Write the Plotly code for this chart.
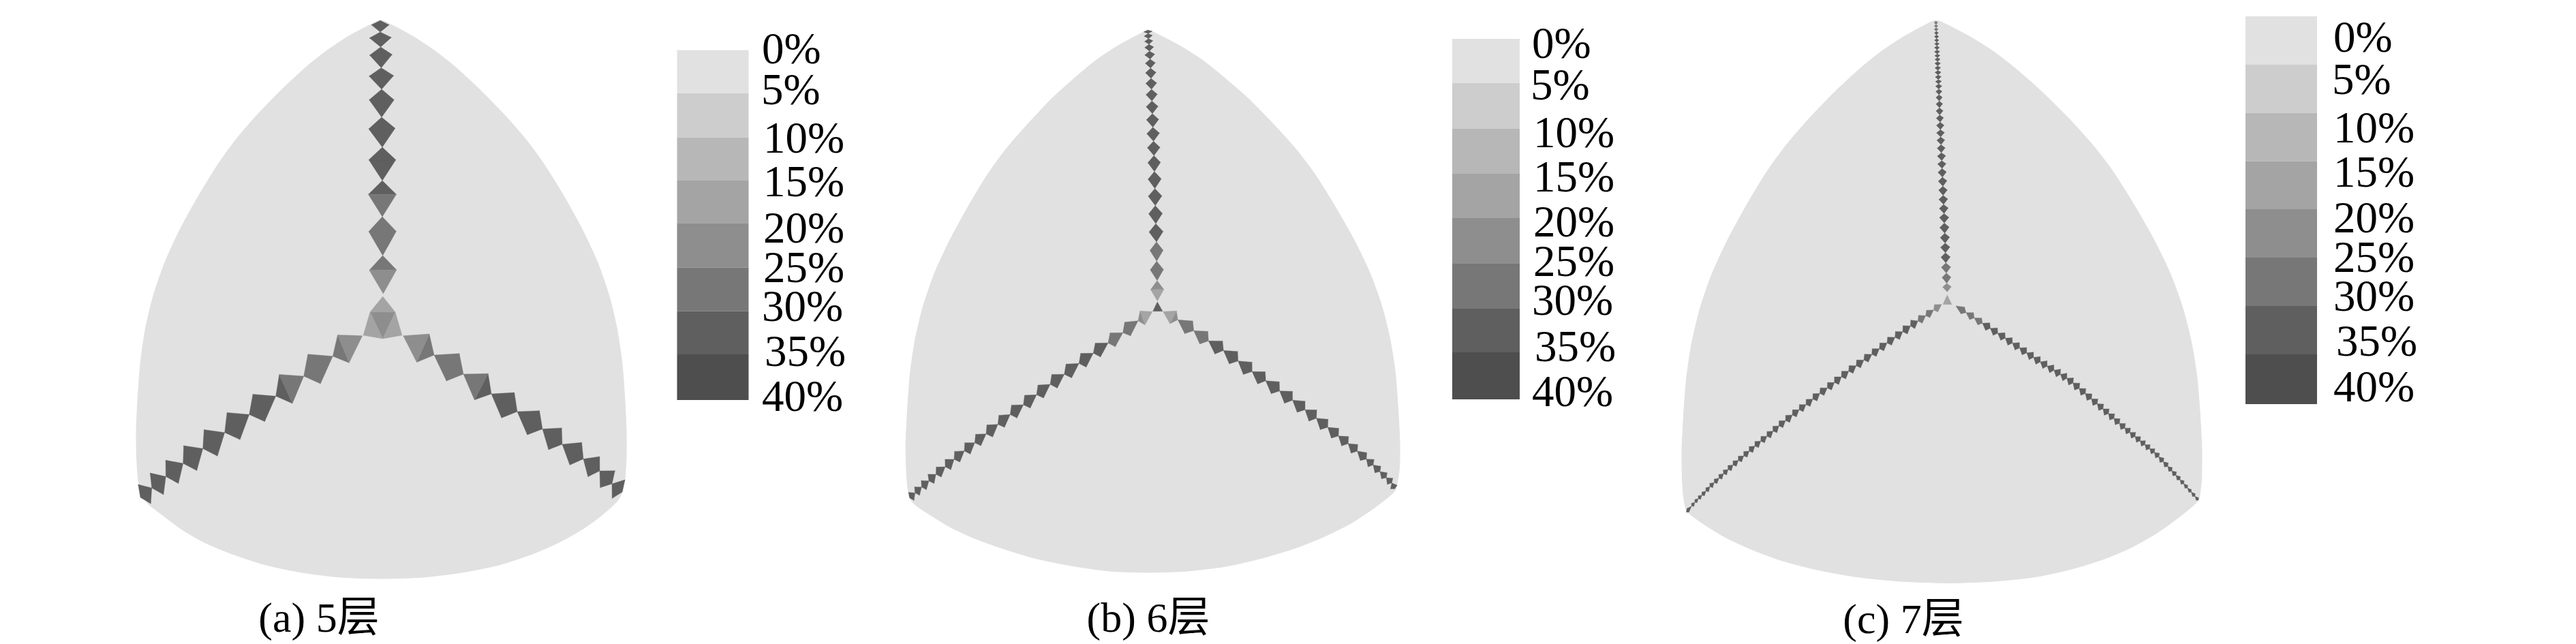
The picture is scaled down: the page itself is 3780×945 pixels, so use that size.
import plotly.graph_objects as go

legend_labels = ["0%", "5%", "10%", "15%", "20%", "25%", "30%", "35%", "40%"]
legend_greys = ["#e1e1e1", "#cdcdcd", "#b7b7b7", "#a4a4a4", "#8e8e8e", "#777777", "#5f5f5f", "#4e4e4e"]
shell_grey = "#e1e1e1"

captions = ["(a) 5层", "(b) 6层", "(c) 7层"]
caption_x = [468, 1685, 2793]
caption_y = [911, 911, 913]

# legend blocks
legend_a_edges = [73.5, 136.7, 201.8, 265, 328, 392.8, 456.6, 520, 587]
legend_a_label_y = [77, 137, 208, 272, 340, 398, 455, 521, 587]
legend_a_label_x = [1118, 1117, 1120, 1120, 1120, 1120, 1118, 1122, 1118]
legend_b_edges = [57, 122, 189, 255, 320, 387, 453, 517, 586]
legend_b_label_y = [69, 129.5, 200, 265, 331, 388.5, 446, 514, 579.5]
legend_b_label_x = [2248, 2246, 2250, 2250, 2250, 2250, 2248, 2252, 2248]
legend_c_edges = [24, 94.6, 165.7, 236.7, 307, 378, 449, 520, 593]
legend_c_label_y = [60, 122, 193, 258, 325, 382.5, 440, 506, 573]
legend_c_label_x = [3424, 3422, 3424, 3424, 3424, 3424, 3424, 3428, 3424]
legend_x = [1046, 2180.5, 3347.5]
legend_w = [105, 99, 105]

# shell outlines
shell_a_x = [558.7, 540, 510, 480, 452, 415, 377, 346, 320, 291,
             264, 242, 225, 213.5, 206.5, 202.5, 200, 200.5, 203, 208,
             216, 240, 267, 300, 341, 390, 443, 500, 561, 620,
             678, 732, 781, 820, 854, 882, 906, 914, 917, 919,
             919, 916.5, 912.5, 905.3, 893.8, 876.8, 854.5, 827.5, 798.3, 772,
             740.6, 702.5, 665.4, 637.2, 607, 577.4, 558.7]
shell_a_y = [30, 38, 54, 74, 96, 130, 169, 205, 241, 288,
             337, 385, 434, 482, 530, 580, 632, 670, 705, 725,
             738, 757, 777, 796, 813, 829, 840, 847, 849, 847,
             840, 829, 813, 796, 777, 757, 735, 720, 702, 670,
             632, 580, 530, 482, 434, 385, 337, 288, 241, 205,
             169, 130, 96, 74, 54, 38, 30]
shell_b_x = [1685, 1666.5, 1637.3, 1607.5, 1579.7, 1543.1, 1505.4, 1474.4, 1448.5, 1419.6,
             1393, 1370.9, 1354.2, 1342.8, 1335.7, 1331.8, 1329.3, 1330, 1332.3, 1338,
             1364, 1395.4, 1430, 1468.7, 1518, 1571.5, 1628, 1685, 1742, 1799,
             1852, 1901.6, 1944, 1982, 2017, 2047, 2051, 2053.5, 2054, 2051.4,
             2047.4, 2040, 2028.2, 2010.8, 1988, 1960.3, 1930.4, 1903.4, 1871.3, 1832.2,
             1794.2, 1765.4, 1734.4, 1704.2, 1685]
shell_b_y = [45, 53, 69, 89, 112, 145, 185, 221, 257, 305,
             354, 402, 451, 499, 547, 598, 650, 690, 716.9, 736,
             755, 774, 790, 804, 819, 830, 838, 840, 838, 831,
             819, 804, 787, 768, 745, 720, 705, 687, 650, 598,
             547, 499, 451, 402, 354, 305, 257, 221, 185, 145,
             112, 89, 69, 53, 45]
shell_c_x = [2841, 2821.6, 2791, 2759.7, 2730.6, 2692.2, 2652.6, 2620.2, 2593, 2562.7,
             2534.8, 2511.6, 2494.1, 2482.2, 2474.7, 2470.6, 2468, 2468.5, 2470.4, 2475.5,
             2503, 2532.7, 2572, 2613.4, 2666, 2723.5, 2790, 2859, 2925, 2987.6,
             3040, 3090.3, 3128, 3163.7, 3196, 3226, 3229, 3230.4, 3231, 3228.3,
             3224, 3216.2, 3203.7, 3185.4, 3161.2, 3131.9, 3100.4, 3071.9, 3038, 2996.6,
             2956.4, 2926, 2893.3, 2861.3, 2841]
shell_c_y = [30, 38.4, 55.3, 76.2, 99.6, 135, 176.2, 214, 251.4, 301.4,
             352.7, 403.3, 454.5, 505.2, 555.1, 608.3, 662.7, 700, 729, 750,
             771, 789, 807, 822.3, 836, 846.4, 853, 855.4, 853, 846.4,
             835, 819.3, 803, 783, 760, 733.7, 718, 704.8, 662.7, 608.3,
             555.1, 505.2, 454.5, 403.3, 352.7, 301.4, 251.4, 214, 176.2, 135,
             99.6, 76.2, 55.3, 38.4, 30]

# panel (a): arm joints run from the shell towards the centre
a_top_x = [558, 558, 558.6, 559.4, 560, 560, 561, 561, 561, 561.6, 562.3]
a_top_y = [30, 47, 69, 99.4, 131, 172, 216, 265, 318, 375, 431]
a_top_half = [13, 16, 16.5, 18, 18.3, 19.4, 19.8, 20.5, 20.2, 20]
a_top_outer = [32.5, 32.5, 32.5, 32.5, 32.5, 32.5, 32.5, 32.5, 27.5, 27.5]
a_top_inner = [32.5, 32.5, 32.5, 32.5, 32.5, 32.5, 32.5, 27.5, 27.5, 22.5]

a_left_x = [206, 222.7, 243.3, 268.7, 297.7, 329.7, 365.7, 404.7, 445.7, 488.3, 531.7]
a_left_y = [730, 716, 699.3, 680, 658.3, 634.7, 608.3, 581.3, 552, 522.7, 492.7]
a_left_half = [16.7, 18.5, 19.2, 20.4, 21.4, 21.6, 21.4, 22.9, 23, 21.6]
a_left_outer = [32.5, 32.5, 32.5, 32.5, 32.5, 32.5, 32.5, 32.5, 27.5, 27.5]
a_left_inner = [32.5, 32.5, 32.5, 32.5, 32.5, 32.5, 32.5, 27.5, 27.5, 22.5]

a_right_x = [913, 898, 880, 856, 825, 796, 759, 721, 680, 637, 591.7]
a_right_y = [722, 710, 691, 673.5, 652, 629.5, 604, 578, 549, 521, 492.7]
a_right_half = [16.5, 16.4, 17, 18.6, 18.5, 19.6, 20.6, 21.5, 22, 22.5]
a_right_outer = [32.5, 32.5, 32.5, 32.5, 32.5, 32.5, 32.5, 32.5, 27.5, 27.5]
a_right_inner = [32.5, 32.5, 32.5, 32.5, 32.5, 32.5, 32.5, 27.5, 27.5, 22.5]

# centre triangles, three corners each
a_hub_x = [561.7, 580, 543, 543, 533, 561.7, 580, 590, 561.7, 543, 580, 561.7]
a_hub_y = [435, 458, 458, 458, 492, 497, 458, 492, 497, 458, 458, 497]
a_hub_vals = [17.5, 17.5, 17.5, 22.5]

# panel (b)
b_top_x = [1684.3, 1684.7, 1685.3, 1686, 1686.7, 1687.7, 1688.3, 1689, 1689.7, 1690.3, 1691,
           1691.7, 1692.7, 1693.3, 1694, 1694.7, 1695.3, 1696, 1697, 1697.3, 1698, 1698.3]
b_top_y = [44, 49.3, 56.7, 65, 75, 86.7, 100, 115, 131, 148.3, 166.7,
           186.7, 207.3, 228.3, 251.7, 276.7, 301.7, 328.3, 355, 383.3, 411.7, 441.7]
b_top_half = [6, 6, 6, 6.5, 7.3, 7.3, 7.7, 8, 8.3, 8.7, 9, 9.3, 9.3, 9.3, 9.7, 10, 10, 10.3, 9.7, 9.7, 9.7]
b_top_outer = [32.5, 32.5, 32.5, 32.5, 32.5, 32.5, 32.5, 32.5, 32.5, 32.5, 32.5,
               32.5, 32.5, 32.5, 32.5, 32.5, 32.5, 32.5, 27.5, 27.5, 22.5]
b_top_inner = [32.5, 32.5, 32.5, 32.5, 32.5, 32.5, 32.5, 32.5, 32.5, 32.5, 32.5,
               32.5, 32.5, 32.5, 32.5, 32.5, 32.5, 32.5, 27.5, 27.5, 17.5]

b_left_x = [1334.7, 1342.7, 1352.3, 1363, 1373.3, 1387, 1400, 1415, 1430.3, 1447, 1464.3,
            1482.3, 1501.7, 1521, 1541, 1561.7, 1583.3, 1604.3, 1626, 1647.7, 1670, 1691]
b_left_y = [730.7, 723.3, 714.7, 705.7, 696, 685, 674, 661.7, 649.7, 636.7, 622.7,
            608.3, 594, 579.3, 564, 549.3, 533.3, 518.3, 503.3, 488.3, 470.7, 457.3]
b_left_half = [7, 7, 7.5, 8, 8, 8.5, 8.5, 9, 9, 9.5, 9.5, 10, 10, 10, 10.5, 10.5, 10.5, 10.5, 10.5, 10.5, 10.5]
b_left_outer = [32.5, 32.5, 32.5, 32.5, 32.5, 32.5, 32.5, 32.5, 32.5, 32.5, 32.5,
                32.5, 32.5, 32.5, 32.5, 32.5, 32.5, 32.5, 27.5, 27.5, 22.5]
b_left_inner = [32.5, 32.5, 32.5, 32.5, 32.5, 32.5, 32.5, 32.5, 32.5, 32.5, 32.5,
                32.5, 32.5, 32.5, 32.5, 32.5, 32.5, 32.5, 27.5, 27.5, 17.5]

b_right_x = [2046.7, 2042.3, 2034.3, 2025, 2015, 2005, 1991.7, 1978.3, 1964, 1948.3, 1931.7,
             1915, 1896.7, 1877.7, 1857.3, 1837.3, 1816.7, 1795.3, 1773.3, 1751.7, 1728.3, 1706.7]
b_right_y = [717.3, 708.7, 701, 692, 682.3, 673.7, 662, 651, 639.7, 627, 613.7,
             601.3, 587.3, 573.7, 558.7, 545.3, 529.7, 514.3, 500.3, 485.3, 469.3, 457.3]
b_right_half = [5.5, 6, 6, 6.5, 7, 7.5, 8, 8.5, 9, 9.5, 10, 10, 10.5, 10.5, 10.5, 11, 11, 11, 11, 11, 10.5]
b_right_outer = [32.5, 32.5, 32.5, 32.5, 32.5, 32.5, 32.5, 32.5, 32.5, 32.5, 32.5,
                 32.5, 32.5, 32.5, 32.5, 32.5, 32.5, 32.5, 27.5, 27.5, 22.5]
b_right_inner = [32.5, 32.5, 32.5, 32.5, 32.5, 32.5, 32.5, 32.5, 32.5, 32.5, 32.5,
                 32.5, 32.5, 32.5, 32.5, 32.5, 32.5, 32.5, 27.5, 27.5, 17.5]

b_hub_x = [1698.3, 1691.7, 1706]
b_hub_y = [443, 456.7, 456.7]
b_hub_vals = [32.5]

# panel (c)
c_top_x = [2840.7, 2841, 2841, 2841.3, 2841.7, 2841.7, 2842, 2842.3, 2842.3, 2842.7,
           2843, 2843.3, 2843.3, 2843.7, 2844, 2844.3, 2844.7, 2845, 2845.3, 2845.7,
           2846, 2846.3, 2847, 2847.3, 2847.7, 2848.3, 2848.7, 2849.3, 2849.7, 2850.3,
           2851, 2851.3, 2852, 2852.7, 2853, 2853.7, 2854.3, 2854.7, 2855.3, 2856,
           2856.7, 2857.3]
c_top_y = [31, 36, 40.7, 46, 51.3, 56.7, 62, 67.3, 73.3, 79.3,
           84.7, 90.3, 96.7, 103.3, 110, 116.7, 123.3, 130.7, 139, 148.3,
           158.3, 168.7, 179.3, 190.3, 201, 212.3, 224, 235.7, 247.3, 260,
           273.3, 286.7, 300, 313.3, 327.3, 342.3, 356.7, 371, 385.7, 400.7,
           415.7, 428.3]
c_top_half = [2.5, 2.5, 2.8, 2.8, 3.1, 3.1, 3.3, 3.5, 3.8, 3.8,
              3.8, 4, 4.1, 4.3, 4.3, 4.3, 4.5, 4.5, 4.6, 4.8,
              5.1, 5.3, 5.5, 5.8, 5.8, 5.8, 6.1, 6.1, 6.1, 6.3,
              6.3, 6.5, 6.5, 6.8, 6.8, 6.8, 6.8, 6.8, 6.8, 6.5,
              6.3]
c_top_vals = [27.5, 27.5, 27.5, 32.5, 32.5, 32.5, 32.5, 32.5, 32.5, 32.5,
              32.5, 32.5, 32.5, 32.5, 32.5, 32.5, 32.5, 32.5, 32.5, 32.5,
              32.5, 32.5, 32.5, 32.5, 32.5, 32.5, 32.5, 32.5, 32.5, 32.5,
              32.5, 32.5, 32.5, 32.5, 32.5, 32.5, 32.5, 32.5, 27.5, 27.5,
              22.5]

c_left_x = [2474.3, 2482.3, 2487, 2492, 2497.3, 2503.3, 2509, 2515.3, 2522.3, 2529,
            2535.7, 2543, 2550.7, 2558.7, 2566.7, 2575, 2583.7, 2592.7, 2601.7, 2610.3,
            2620, 2630, 2640, 2650, 2660, 2670.3, 2681.3, 2691.7, 2702, 2712.7,
            2723.7, 2735, 2746.7, 2757.7, 2769, 2780.7, 2792, 2803.3, 2814.3, 2825.7,
            2837.3, 2849]
c_left_y = [751.7, 742.7, 737, 731.7, 726.7, 720.7, 714.3, 708.3, 701.7, 695.3,
            689, 682.3, 675.7, 669, 662, 654.7, 647.3, 640.3, 632.7, 625,
            617.3, 609, 601.3, 593.7, 585.7, 577.3, 569.3, 561.3, 553, 544.7,
            536.7, 528.3, 520, 511.7, 503.3, 495, 486.7, 478.3, 471, 463.3,
            455, 446.7]
c_left_half = [2.8, 2.8, 2.8, 3.1, 3.3, 3.5, 3.8, 3.8, 4.1, 4.3,
               4.5, 4.6, 4.8, 4.8, 5, 5.1, 5.3, 5.3, 5.5, 5.6,
               5.8, 5.8, 5.8, 5.8, 6, 6.1, 6.1, 6.3, 6.3, 6.3,
               6.3, 6.3, 6.3, 6.3, 6.5, 6.5, 6.8, 6.8, 6.3, 5.8,
               5.8]
c_left_vals = [32.5, 32.5, 32.5, 32.5, 32.5, 32.5, 32.5, 32.5, 32.5, 32.5,
               32.5, 32.5, 32.5, 32.5, 32.5, 32.5, 32.5, 32.5, 32.5, 32.5,
               32.5, 32.5, 32.5, 32.5, 32.5, 32.5, 32.5, 32.5, 32.5, 32.5,
               32.5, 32.5, 32.5, 32.5, 32.5, 32.5, 32.5, 32.5, 27.5, 27.5,
               22.5]

c_right_x = [3226, 3221, 3215.5, 3210, 3204.5, 3199, 3193, 3187, 3181, 3174.5,
             3168, 3161.5, 3154.5, 3147.5, 3140.5, 3133, 3125.5, 3118, 3110, 3102,
             3094, 3086, 3077.5, 3069, 3060, 3051, 3042, 3033, 3023.5, 3014,
             3004, 2994, 2984, 2974, 2963.5, 2953, 2942.5, 2931.5, 2920.5, 2909,
             2897, 2885, 2870]
c_right_y = [734, 728.4, 722.3, 716.2, 710, 704, 697.5, 691, 684.6, 677.6,
             670.6, 664, 658.4, 652.6, 646.9, 640.7, 634.5, 628.2, 621.2, 614.1,
             607, 600, 592.6, 585.3, 577.6, 569.9, 562, 555.1, 549.3, 543.3,
             537.2, 531, 524.5, 517.7, 510.5, 503.4, 496.2, 489, 481.8, 474.3,
             466.5, 458.7, 449]
c_right_half = [2.6, 2.8, 2.8, 3, 3.3, 3.5, 3.8, 3.8, 4.1, 4.3,
                4.5, 4.6, 4.8, 5, 5.1, 5.3, 5.3, 5.5, 5.6, 5.8,
                5.8, 5.8, 6, 6, 6.1, 6.3, 6.3, 6.3, 6.5, 6.5,
                6.5, 6.5, 6.3, 6.3, 6.3, 6.3, 6.3, 6.3, 6.3, 5.8,
                5.8, 5.6]
c_right_vals = [32.5, 32.5, 32.5, 32.5, 32.5, 32.5, 32.5, 32.5, 32.5, 32.5,
                32.5, 32.5, 32.5, 32.5, 32.5, 32.5, 32.5, 32.5, 32.5, 32.5,
                32.5, 32.5, 32.5, 32.5, 32.5, 32.5, 32.5, 32.5, 32.5, 32.5,
                32.5, 32.5, 32.5, 32.5, 32.5, 32.5, 32.5, 32.5, 32.5, 27.5,
                27.5, 27.5]

c_hub_x = [2857.3, 2851, 2864]
c_hub_y = [432.7, 446.7, 446.7]
c_hub_vals = [17.5]


def grey_of(val):
    return legend_greys[int(val // 5)]


def add_tri(bins, val, xs, ys):
    bx, by = bins.setdefault(grey_of(val), ([], []))
    bx.extend(list(xs) + [xs[0], None])
    by.extend(list(ys) + [ys[0], None])


def add_arm(bins, xs, ys, half, outer, inner, f_pos, f_neg):
    # each kite: outer tip + two wings, then two wings + inner tip
    for i in range(len(half)):
        x0, y0, x1, y1 = xs[i], ys[i], xs[i + 1], ys[i + 1]
        dx, dy = x1 - x0, y1 - y0
        length = (dx ** 2 + dy ** 2) ** 0.5
        nx, ny = -dy / length, dx / length
        wx1 = x0 + dx * f_pos + nx * half[i]
        wy1 = y0 + dy * f_pos + ny * half[i]
        wx2 = x0 + dx * f_neg - nx * half[i]
        wy2 = y0 + dy * f_neg - ny * half[i]
        add_tri(bins, outer[i], [x0, wx1, wx2], [y0, wy1, wy2])
        add_tri(bins, inner[i], [x1, wx1, wx2], [y1, wy1, wy2])


def add_hub(bins, xs, ys, vals):
    for i, val in enumerate(vals):
        add_tri(bins, val, xs[3 * i:3 * i + 3], ys[3 * i:3 * i + 3])


fig = go.Figure()

# shells first so the kites sit on top
for sx, sy in [(shell_a_x, shell_a_y), (shell_b_x, shell_b_y), (shell_c_x, shell_c_y)]:
    fig.add_trace(go.Scatter(
        x=sx, y=sy, mode="lines", fill="toself", fillcolor=shell_grey,
        line=dict(color=shell_grey, width=1, shape="spline", smoothing=0.7),
        hoverinfo="skip",
    ))

bins = {}
add_arm(bins, a_top_x, a_top_y, a_top_half, a_top_outer, a_top_inner, 0.38, 0.38)
add_arm(bins, a_left_x, a_left_y, a_left_half, a_left_outer, a_left_inner, 0.27, 0.45)
add_arm(bins, a_right_x, a_right_y, a_right_half, a_right_outer, a_right_inner, 0.42, 0.30)
add_hub(bins, a_hub_x, a_hub_y, a_hub_vals)

add_arm(bins, b_top_x, b_top_y, b_top_half, b_top_outer, b_top_inner, 0.44, 0.44)
add_arm(bins, b_left_x, b_left_y, b_left_half, b_left_outer, b_left_inner, 0.21, 0.41)
add_arm(bins, b_right_x, b_right_y, b_right_half, b_right_outer, b_right_inner, 0.33, 0.30)
add_hub(bins, b_hub_x, b_hub_y, b_hub_vals)

add_arm(bins, c_top_x, c_top_y, c_top_half, c_top_vals, c_top_vals, 0.42, 0.42)
add_arm(bins, c_left_x, c_left_y, c_left_half, c_left_vals, c_left_vals, 0.25, 0.40)
add_arm(bins, c_right_x, c_right_y, c_right_half, c_right_vals, c_right_vals, 0.36, 0.30)
add_hub(bins, c_hub_x, c_hub_y, c_hub_vals)

for grey, (bx, by) in bins.items():
    fig.add_trace(go.Scatter(
        x=bx, y=by, mode="lines", fill="toself", fillcolor=grey,
        line=dict(color=grey, width=0.4), hoverinfo="skip",
    ))

# legend blocks and their labels
legends = [
    (legend_a_edges, legend_a_label_x, legend_a_label_y),
    (legend_b_edges, legend_b_label_x, legend_b_label_y),
    (legend_c_edges, legend_c_label_x, legend_c_label_y),
]
for n, (edges, lx, ly) in enumerate(legends):
    fig.add_trace(go.Bar(
        x=[legend_x[n]] * len(legend_greys),
        y=[b - a for a, b in zip(edges[:-1], edges[1:])],
        base=edges[:-1],
        width=legend_w[n],
        marker=dict(color=legend_greys, line=dict(width=0)),
        hoverinfo="skip",
    ))
    fig.add_trace(go.Scatter(
        x=lx, y=ly, mode="text", text=legend_labels, textposition="middle right",
        textfont=dict(family="Liberation Serif", size=65, color="black"),
        hoverinfo="skip",
    ))

fig.add_trace(go.Scatter(
    x=caption_x, y=caption_y, mode="text", text=captions, textposition="middle center",
    textfont=dict(family="Liberation Serif, Noto Sans CJK SC", size=62, color="black"),
    hoverinfo="skip", cliponaxis=False,
))

fig.update_layout(
    width=3780,
    height=945,
    margin=dict(l=0, r=0, t=0, b=0),
    paper_bgcolor="white",
    plot_bgcolor="white",
    showlegend=False,
    barmode="overlay",
    xaxis=dict(range=[0, 3780], visible=False),
    yaxis=dict(range=[945, 0], visible=False),
)

fig.write_html("out.html", config=dict(displayModeBar=False),
               post_script="document.body.style.margin='0';")
